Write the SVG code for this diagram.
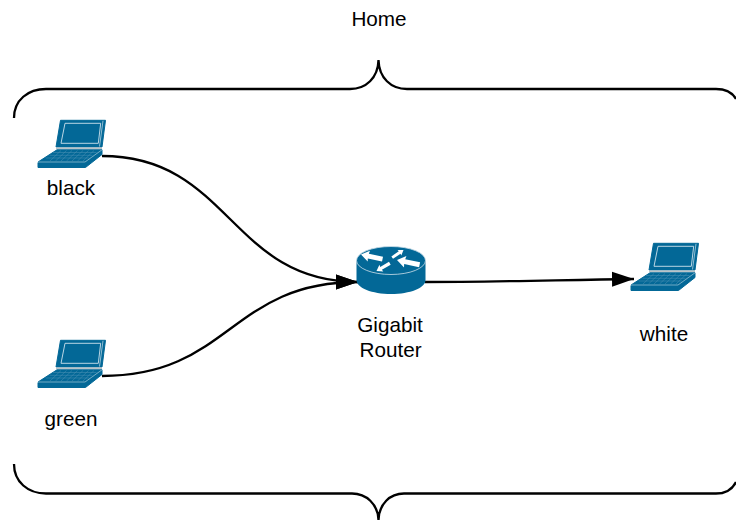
<svg xmlns="http://www.w3.org/2000/svg" width="736" height="520" viewBox="0 0 736 520">
<style>
text{font-family:"Liberation Sans",Arial,sans-serif;font-size:20.7px;fill:#000;text-anchor:middle}
.c{fill:none;stroke:#000;stroke-width:2.3}
.b{fill:none;stroke:#000;stroke-width:2.3}
.lap{fill:#036897;stroke:#036897;stroke-width:1}
.hl{fill:none;stroke:#cfe2ec;stroke-width:.9}
.ar{fill:#fff}
</style>
<defs>
<marker id="a" markerUnits="userSpaceOnUse" markerWidth="24" markerHeight="18" refX="22" refY="9" orient="auto"><path d="M0 1.500L22 9L0 16.500Z" fill="#000"/></marker>
<path id="arw" class="ar" d="M0 0L8 -5.500L7.500 -2.400L22 -2.400L22 2.400L7.500 2.400L8 5.500Z"/>
<g id="laptop">
<path class="lap" d="M23.500 .3H68.500L65 27H19Z"/>
<path class="hl" d="M28 3.300H63.700L61.300 23.300H24Z"/>
<path d="M66 .8L62.500 26.500" stroke="#cfe2ec" stroke-width=".7" fill="none"/>
<path d="M19 27.500H65V29.300H19Z" fill="#b9c3c8"/>
<path class="lap" d="M20 29.800H65L48 42H1Z"/>
<path class="lap" d="M1 42.500H48V47.500H1Z"/>
<path class="lap" d="M48.500 42L65 29.800V34.500L48.500 47.500Z"/>
<path d="M1 42H48L65 29.800" stroke="#bcd6e3" stroke-width=".6" fill="none"/>
<path d="M16 32.500H59.500M12.500 35.300H55.500M9 38H52M24 30.500L13 41M29.500 30.500L18.500 41M35 30.500L24 41M40.500 30.500L29.500 41M46 30.500L35 41M51.500 30.500L40.500 41M57 30.500L46 41" stroke="#4f93b4" stroke-width=".5" fill="none"/>
</g>
</defs>
<text x="379" y="26">Home</text>
<path class="b" d="M14 118C14 100 28 89 46 89H350C366 89 378 78 378.500 60C379 78 391 89 407 89H716C724 89 732 92 736 99"/>
<path class="b" d="M14 464C14 482 28 493.500 46 493.500H352C366 493.500 378 504 378.500 520C379 504 390 493.500 404 493.500H716C724 493.500 732 490 736 482"/>
<g id="connectors">
<path class="c" d="M102 156C230 156 230 282 358 282" marker-end="url(#a)"/>
<path class="c" d="M102 376C230 376 230 282 358 282" marker-end="url(#a)"/>
<path class="c" d="M425 282C490 282 560 280 634 279" marker-end="url(#a)"/>
</g>
<g id="black"><use href="#laptop" x="37" y="120"/><text x="71" y="195">black</text></g>
<g id="green"><use href="#laptop" x="37" y="340"/><text x="71" y="426">green</text></g>
<g id="white"><use href="#laptop" x="630" y="243"/><text x="664" y="341">white</text></g>
<g id="router">
<path d="M356.500 261V280C356.500 288 372 294 391 294S425.500 288 425.500 280V261Z" fill="#036897"/>
<ellipse cx="391" cy="260.500" rx="34.500" ry="14" fill="#036897" stroke="#cfe0ea" stroke-width=".8"/>
<use href="#arw" transform="translate(361 254.500) rotate(12)"/>
<use href="#arw" transform="translate(403.500 250) rotate(146) scale(.62)"/>
<use href="#arw" transform="translate(397 260) rotate(12) scale(1.05)"/>
<use href="#arw" transform="translate(376.500 271) rotate(-30) scale(.7)"/>
<text x="390" y="332">Gigabit</text><text x="390.500" y="357">Router</text>
</g>
</svg>
